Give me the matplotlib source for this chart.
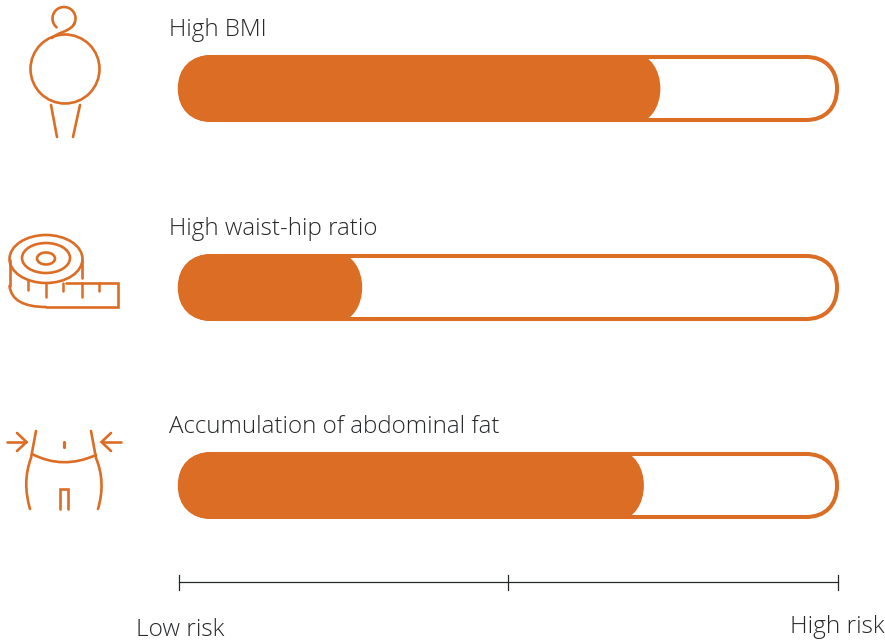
"""Obesity measures vs. risk: rounded gauge bars with line icons."""

import matplotlib
matplotlib.use("Agg")
import matplotlib.pyplot as plt
import numpy as np
from matplotlib.patches import Circle, Ellipse, PathPatch
from matplotlib.path import Path

ORANGE = "#DC6D25"
DARK = "#26282A"

LABELS = ["High BMI", "High waist-hip ratio", "Accumulation of abdominal fat"]
RISK = [73, 27.8, 70.5]
SCALE_TICKS = [0, 50, 100]
SCALE_LABELS = ["Low risk", "High risk"]

# gauge geometry, pixels
X0, X1 = 178.8, 838.5
ROW_TOP = [55, 254, 452]
ROW_H = 67
ICON_LW = 1.9

plt.rcParams["font.family"] = ["Open Sans", "DejaVu Sans"]


def to_px(v):
    return X0 + (X1 - X0) * v / 100


def pill(x0, x1, y0, y1, rl, rr, kl=0.62, kr=0.62):
    # rounded bar; radii and corner fullness can differ per end
    h = (y1 - y0) / 2
    verts = [
        (x0 + rl, y0), (x1 - rr, y0),
        (x1 - rr * (1 - kr), y0), (x1, y0 + h * (1 - kr)), (x1, y0 + h),
        (x1, y1 - h * (1 - kr)), (x1 - rr * (1 - kr), y1), (x1 - rr, y1),
        (x0 + rl, y1),
        (x0 + rl * (1 - kl), y1), (x0, y1 - h * (1 - kl)), (x0, y0 + h),
        (x0, y0 + h * (1 - kl)), (x0 + rl * (1 - kl), y0), (x0 + rl, y0),
    ]
    codes = [Path.MOVETO, Path.LINETO] + [Path.CURVE4] * 6 + [Path.LINETO] + [Path.CURVE4] * 6
    return Path(verts, codes)


def stroke(ax, pts, lw=ICON_LW, curve=False):
    pts = np.array(pts, dtype=float)
    if curve:
        # quadratic segments through (start, ctrl, end, ctrl, end, ...)
        codes = [Path.MOVETO] + [Path.CURVE3] * (len(pts) - 1)
        ax.add_patch(PathPatch(Path(pts, codes), fc="none", ec=ORANGE, lw=lw, capstyle="round"))
    else:
        ax.plot(pts[:, 0], pts[:, 1], color=ORANGE, lw=lw, solid_capstyle="round",
                solid_joinstyle="miter")


def icon_body(ax):
    ax.add_patch(Circle((65, 69), 34.5, fc="none", ec=ORANGE, lw=ICON_LW))
    # head is an open loop running into the shoulder line
    a = np.radians(np.linspace(130, 395, 60))
    stroke(ax, np.c_[64 + 11.5 * np.cos(a), 18.5 + 11.5 * np.sin(a)])
    stroke(ax, [(74.6, 23), (73, 28), (63, 32), (55, 35), (52, 38)], curve=True)
    stroke(ax, [(51, 105), (57, 137)])
    stroke(ax, [(80, 105), (73, 137)])


def icon_tape(ax):
    ax.add_patch(Ellipse((46, 259), 73, 48, fc="none", ec=ORANGE, lw=ICON_LW))
    ax.add_patch(Ellipse((46, 258), 48, 30, fc="none", ec=ORANGE, lw=ICON_LW))
    ax.add_patch(Ellipse((46, 258.5), 18, 12, fc="none", ec=ORANGE, lw=ICON_LW))
    stroke(ax, [(9.5, 260), (9.5, 286)])
    stroke(ax, [(9.5, 286), (12, 307), (46, 307)], curve=True)
    stroke(ax, [(46, 307), (118, 307), (118, 283), (66, 283)])
    stroke(ax, [(82, 260), (82, 278)])
    for x, y0, y1 in [(28, 280, 290), (46, 284, 297), (63, 283, 291), (81.5, 283, 297), (99, 283, 291)]:
        stroke(ax, [(x, y0), (x, y1)], lw=1.8)


def icon_waist(ax):
    stroke(ax, [(36, 431), (33, 447), (31, 458), (22, 482), (30, 509)], curve=True)
    stroke(ax, [(91, 431), (94, 447), (96, 458), (106, 482), (98, 509)], curve=True)
    stroke(ax, [(32, 454), (63, 470), (96, 455)], curve=True)
    stroke(ax, [(63.5, 442), (63.5, 447)], lw=2.3)
    stroke(ax, [(60, 509), (60, 489), (68, 489), (68, 509)])
    stroke(ax, [(7, 442), (26, 442)])
    stroke(ax, [(17, 433), (26.5, 442), (17, 451)])
    stroke(ax, [(121, 442), (102, 442)])
    stroke(ax, [(111, 433), (101.5, 442), (111, 451)])


def main():
    fig = plt.figure(figsize=(8.85, 6.42), dpi=100)
    ax = fig.add_axes([0, 0, 1, 1])
    ax.set_xlim(0, 885)
    ax.set_ylim(642, 0)
    ax.axis("off")

    for label, val, top in zip(LABELS, RISK, ROW_TOP):
        bot = top + ROW_H
        ax.add_patch(PathPatch(pill(X0 + 1, X1 - 1.5, top + 2, bot - 2, 32, 31),
                               fc="white", ec=ORANGE, lw=2.9))
        ax.add_patch(PathPatch(pill(X0, to_px(val), top, bot, 33, 23, kr=0.55),
                               fc=ORANGE, ec="none"))
        ax.text(169, top - 19, label, color=DARK, fontsize=17.4, fontweight="light",
                ha="left", va="baseline")

    icon_body(ax)
    icon_tape(ax)
    icon_waist(ax)

    # risk scale under the bars, a touch inside the gauge's right edge
    sx0, sx1 = X0 + 0.2, X1 - 1
    ax.plot([sx0, sx1], [582, 582], color=DARK, lw=0.9)
    for t in SCALE_TICKS:
        x = sx0 + (sx1 - sx0) * t / 100
        ax.plot([x, x], [575, 590], color=DARK, lw=0.9)
    ax.text(180, 636, SCALE_LABELS[0], color=DARK, fontsize=17.6, fontweight="light",
            ha="center", va="baseline")
    ax.text(837.5, 633, SCALE_LABELS[1], color=DARK, fontsize=17.6, fontweight="light",
            ha="center", va="baseline")

    fig.savefig("out.png", dpi=100)
    plt.close(fig)


if __name__ == "__main__":
    main()
